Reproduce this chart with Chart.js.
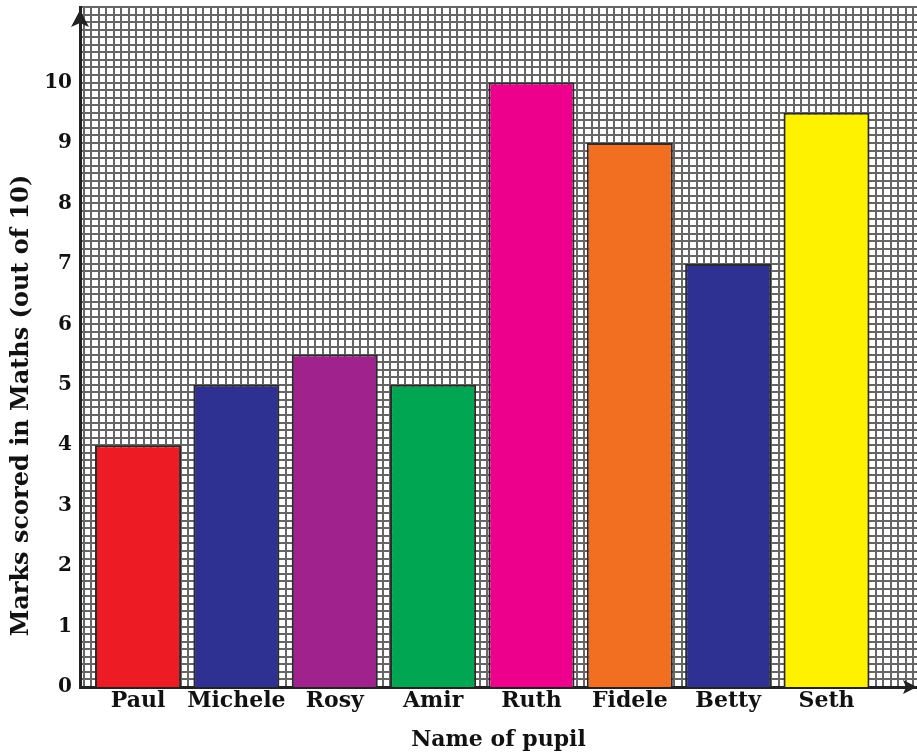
<!DOCTYPE html>
<html>
<head>
<meta charset="utf-8">
<script src="https://cdn.jsdelivr.net/npm/chart.js@4/dist/chart.umd.min.js"></script>
<style>
  body { margin: 0; background: #fff; }
  canvas { display: block; }
</style>
</head>
<body>
<canvas id="canvas" width="917" height="756"></canvas>
<script>
// data
var pupils = ["Paul", "Michele", "Rosy", "Amir", "Ruth", "Fidele", "Betty", "Seth"];
var marks = [4, 5, 5.5, 5, 10, 9, 7, 9.5];
var barColors = ["#ED1C24", "#2E3192", "#A0228C", "#00A651", "#EC008C", "#F26F21", "#2E3192", "#FFF200"];
var yTicks = [0, 1, 2, 3, 4, 5, 6, 7, 8, 9, 10];

var fontFamily = "'DejaVu Serif', 'Liberation Serif', serif";

// draws the little arrow heads at the ends of the two axes
var axisArrows = {
  id: "axisArrows",
  afterDraw: function (chart) {
    var ctx = chart.ctx;
    var a = chart.chartArea;
    ctx.save();
    ctx.fillStyle = "#222";
    // y axis arrow (top)
    ctx.beginPath();
    ctx.moveTo(a.left, a.top + 3);
    ctx.lineTo(a.left + 9, a.top + 20);
    ctx.lineTo(a.left, a.top + 16);
    ctx.lineTo(a.left - 9, a.top + 20);
    ctx.closePath();
    ctx.fill();
    // x axis arrow (right)
    ctx.beginPath();
    ctx.moveTo(a.right, a.bottom);
    ctx.lineTo(a.right - 14, a.bottom - 7);
    ctx.lineTo(a.right - 11, a.bottom);
    ctx.lineTo(a.right - 14, a.bottom + 7);
    ctx.closePath();
    ctx.fill();
    ctx.restore();
  },
};

var ctx = document.getElementById("canvas").getContext("2d");

var myChart = new Chart(ctx, {
  type: "bar",
  data: {
    datasets: [
      {
        label: "Marks",
        data: marks.map(function (m, i) {
          return { x: i, y: m };
        }),
        backgroundColor: barColors,
        borderColor: "#2b2b2b",
        borderWidth: 2,
        categoryPercentage: 1,
        barPercentage: 0.875,
        xAxisID: "x",
        yAxisID: "y",
      },
    ],
  },
  options: {
    responsive: false,
    animation: false,
    layout: { padding: { top: 7, right: 0, left: 0, bottom: 0 } },
    plugins: {
      legend: { display: false },
      tooltip: { enabled: false },
    },
    scales: {
      x: {
        type: "linear",
        position: "bottom",
        offset: false,
        min: -0.59,
        max: 7.92,
        afterBuildTicks: function (scale) {
          scale.ticks = pupils.map(function (p, i) {
            return { value: i };
          });
        },
        afterFit: function (scale) {
          scale.height = 69;
        },
        ticks: {
          autoSkip: false,
          maxRotation: 0,
          padding: 1,
          color: "#111",
          font: { family: fontFamily, size: 22, weight: "bold" },
          callback: function (v) {
            return pupils[v];
          },
        },
        grid: { display: false, drawTicks: false },
        border: { display: true, color: "#222", width: 3 },
        title: {
          display: true,
          text: "Name of pupil",
          color: "#111",
          font: { family: fontFamily, size: 22, weight: "bold" },
          padding: { top: 0, bottom: 3 },
        },
      },
      gx: {
        type: "linear",
        position: "bottom",
        offset: false,
        min: 0,
        max: 112,
        ticks: { display: false, stepSize: 1 },
        grid: { color: "#666", lineWidth: 2, drawTicks: false },
        border: { display: false },
      },
      y: {
        position: "left",
        min: 0,
        max: 11.25,
        afterBuildTicks: function (scale) {
          scale.ticks = yTicks.map(function (v) {
            return { value: v };
          });
        },
        afterFit: function (scale) {
          scale.width = 80;
          // no extra room for half labels, the top tick sits well below the top
          scale.paddingTop = 0;
          scale.paddingBottom = 0;
        },
        ticks: {
          autoSkip: false,
          padding: 8,
          color: "#111",
          font: { family: fontFamily, size: 20, weight: "bold" },
        },
        grid: { display: false, drawTicks: false },
        border: { display: true, color: "#222", width: 3 },
        title: {
          display: true,
          // trailing nbsp's push the centred title down like in the picture
          text: "Marks scored in Maths (out of 10)" + "\u00a0".repeat(14),
          color: "#111",
          font: { family: fontFamily, size: 24, weight: "bold" },
          padding: { top: 7, bottom: 0 },
        },
      },
      gy: {
        position: "left",
        min: 0,
        max: 11.25,
        ticks: { display: false, stepSize: 0.125 },
        grid: { color: "#666", lineWidth: 2, drawTicks: false },
        border: { display: false },
      },
    },
  },
  plugins: [axisArrows],
});
</script>
</body>
</html>
